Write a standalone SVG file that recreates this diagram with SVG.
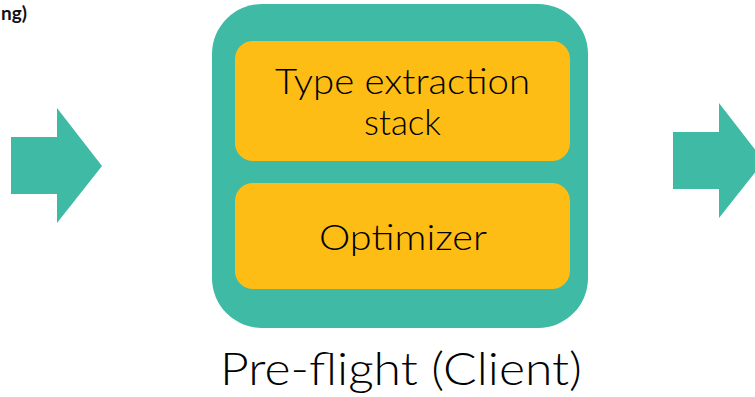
<svg xmlns="http://www.w3.org/2000/svg" width="755" height="397" viewBox="0 0 755 397">
<style>
.teal{fill:#3EBAA5}
.yel{fill:#FDBD14}
.lbl{font-family:Lato,"Noto Sans",sans-serif;font-weight:300;fill:#000;text-anchor:middle}
</style>
<rect width="755" height="397" fill="#fff"/>
<text x="1" y="20" font-family="Lato,'Noto Sans',sans-serif" font-weight="bold" font-size="19" fill="#111">ng)</text>
<g id="connectors">
<polygon id="arrow-left" class="teal" points="11,137 57,137 57,108 102,166 57,223 57,194 11,194"/>
<polygon id="arrow-right" class="teal" points="673,132 719,132 719,103 764,161 719,218 719,189 673,189"/>
</g>
<g id="preflight">
<rect class="teal" x="212" y="4" width="376" height="324" rx="50" ry="50"/>
<text class="lbl" x="401" y="385" font-size="46" textLength="362" lengthAdjust="spacingAndGlyphs">Pre-flight (Client)</text>
</g>
<g id="type-extraction">
<rect class="yel" x="235" y="41" width="335" height="120" rx="18" ry="18"/>
<text class="lbl" x="402.5" y="94" font-size="35" textLength="255" lengthAdjust="spacingAndGlyphs">Type extraction</text>
<text class="lbl" x="402.5" y="135" font-size="35">stack</text>
</g>
<g id="optimizer">
<rect class="yel" x="235" y="183" width="335" height="106" rx="18" ry="18"/>
<text class="lbl" x="403" y="250" font-size="35" textLength="168" lengthAdjust="spacingAndGlyphs">Optimizer</text>
</g>
</svg>
